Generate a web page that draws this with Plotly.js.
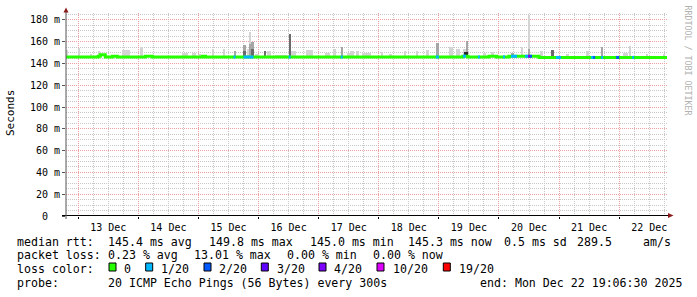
<!DOCTYPE html>
<html><head><meta charset="utf-8">
<script src="https://cdn.plot.ly/plotly-3.0.1.min.js"></script>
<style>html,body{margin:0;padding:0;background:#fff}#chart{width:697px;height:297px}</style>
</head><body><div id="chart"></div>
<script>
// ---------- data ----------
const timeRange = ['2025-12-12 19:06:30', '2025-12-22 19:06:30'];
const yTickVals = [0, 20, 40, 60, 80, 100, 120, 140, 160, 180];
const yTickText = ['0\u00a0\u00a0', '20 m', '40 m', '60 m', '80 m', '100 m', '120 m', '140 m', '160 m', '180 m'];

// median rtt (ms), step changes
const medianTime = ['2025-12-12 19:06:30','2025-12-13 08:00','2025-12-13 08:48','2025-12-13 10:48','2025-12-13 13:36','2025-12-13 15:36',
  '2025-12-14 02:48','2025-12-14 05:36','2025-12-15 01:36','2025-12-15 02:48','2025-12-19 09:36','2025-12-19 11:36',
  '2025-12-19 20:00','2025-12-19 23:00','2025-12-20 04:00','2025-12-20 16:00','2025-12-22 19:06:30'];
const medianValue = [146.0,146.6,148.0,146.0,146.6,146.0,
  146.6,146.0,146.6,146.0,146.8,146.0,
  146.7,146.1,146.7,145.6,145.6];

// loss colour legend
const lossLabels = ['0', '1/20', '2/20', '3/20', '4/20', '10/20', '19/20'];
const lossColors = ['#26ff00', '#00b8ff', '#0059ff', '#5e00ff', '#7e00ff', '#dd00ff', '#ff0000'];

// periods with packet loss (index into lossLabels)
const lossStart = ['2025-12-15 14:00','2025-12-15 18:00','2025-12-16 12:00','2025-12-17 08:48','2025-12-18 22:48','2025-12-19 09:36',
  '2025-12-19 15:36','2025-12-20 01:36','2025-12-20 04:48','2025-12-20 10:24','2025-12-20 11:36','2025-12-20 12:24',
  '2025-12-20 22:48','2025-12-21 12:48','2025-12-21 13:36','2025-12-21 16:48','2025-12-21 22:48','2025-12-22 05:12'];
const lossEnd = ['2025-12-15 14:48','2025-12-15 22:00','2025-12-16 12:48','2025-12-17 09:36','2025-12-19 00:00','2025-12-19 10:48',
  '2025-12-19 16:24','2025-12-20 02:24','2025-12-20 07:12','2025-12-20 11:36','2025-12-20 12:24','2025-12-20 13:12',
  '2025-12-21 00:48','2025-12-21 13:36','2025-12-21 14:24','2025-12-21 17:36','2025-12-22 00:00','2025-12-22 06:00'];
const lossLevel = [1,1,1,1,1,1, 1,1,1,1,4,2, 1,1,2,1,2,1];

// smoke (ping spread): start, end, top value (ms), density 0 light .. 3 dark
const smokeStart = ['2025-12-12 19:12','2025-12-13 00:00','2025-12-13 04:48','2025-12-13 08:00','2025-12-13 17:36','2025-12-14 00:48',
  '2025-12-14 02:48','2025-12-14 17:36','2025-12-14 21:36','2025-12-15 00:00','2025-12-15 05:36','2025-12-15 10:00',
  '2025-12-15 14:00','2025-12-15 17:36','2025-12-15 17:36','2025-12-15 19:12','2025-12-15 20:00','2025-12-15 20:00',
  '2025-12-15 20:48','2025-12-15 20:48','2025-12-15 22:24','2025-12-16 02:00','2025-12-16 03:12','2025-12-16 06:24',
  '2025-12-16 12:00','2025-12-16 12:48','2025-12-16 18:48','2025-12-17 02:24','2025-12-17 05:36','2025-12-17 08:48',
  '2025-12-17 11:12','2025-12-17 12:24','2025-12-17 14:48','2025-12-17 17:12','2025-12-18 00:48','2025-12-18 04:00',
  '2025-12-18 10:00','2025-12-18 14:48','2025-12-18 18:48','2025-12-18 22:48','2025-12-19 04:00','2025-12-19 06:48',
  '2025-12-19 09:36','2025-12-19 10:48','2025-12-19 10:00','2025-12-19 17:36','2025-12-19 20:48','2025-12-20 04:48',
  '2025-12-20 08:48','2025-12-20 11:36','2025-12-20 11:36','2025-12-20 16:24','2025-12-20 20:48','2025-12-21 02:48',
  '2025-12-21 10:48','2025-12-21 16:48','2025-12-22 01:36','2025-12-22 04:00','2025-12-22 10:48','2025-12-22 17:36'];
const smokeEnd = ['2025-12-12 20:00','2025-12-13 00:48','2025-12-13 05:36','2025-12-13 08:48','2025-12-13 20:48','2025-12-14 02:00',
  '2025-12-14 05:36','2025-12-14 20:00','2025-12-14 23:12','2025-12-15 01:12','2025-12-15 06:24','2025-12-15 10:48',
  '2025-12-15 14:48','2025-12-15 18:48','2025-12-15 18:48','2025-12-15 20:00','2025-12-15 20:48','2025-12-15 20:48',
  '2025-12-15 22:00','2025-12-15 22:00','2025-12-16 00:00','2025-12-16 02:48','2025-12-16 04:48','2025-12-16 11:12',
  '2025-12-16 12:48','2025-12-16 14:48','2025-12-16 21:36','2025-12-17 04:24','2025-12-17 06:48','2025-12-17 09:36',
  '2025-12-17 12:24','2025-12-17 14:00','2025-12-17 16:00','2025-12-17 20:48','2025-12-18 01:36','2025-12-18 05:12',
  '2025-12-18 10:48','2025-12-18 15:36','2025-12-18 20:00','2025-12-19 00:00','2025-12-19 05:36','2025-12-19 08:24',
  '2025-12-19 10:48','2025-12-19 11:36','2025-12-19 11:36','2025-12-19 18:48','2025-12-19 22:00','2025-12-20 06:00',
  '2025-12-20 09:36','2025-12-20 12:24','2025-12-20 12:24','2025-12-20 17:36','2025-12-20 22:00','2025-12-21 04:00',
  '2025-12-21 12:00','2025-12-21 17:36','2025-12-22 03:36','2025-12-22 04:48','2025-12-22 11:36','2025-12-22 18:24'];
const smokeTop = [152,154,149,151.5,152,155,
  147.8,149.7,149.5,149,153,153,
  151.5,156.7,151.5,153,168.5,158,
  159.5,153,149,151.5,151.5,147.8,
  166.8,151.2,152,149.5,153,155,
  150,151.5,151.5,149.5,150.5,149,
  151.5,151.5,152,158.9,155,153,
  153,160.7,151,150,150.5,150,
  155,184.3,153,151.5,152,149,
  151.5,155,150,156,148.5,149];
const smokeDensity = [0,0,0,0,0,0,
  0,0,0,0,0,0,
  1,1,2,0,0,1,
  1,2,0,2,0,0,
  2,0,0,0,0,1,
  0,0,0,0,0,0,
  0,0,0,1,0,0,
  0,1,3,0,0,1,
  0,0,1,0,2,0,
  0,1,0,0,0,0];

const rttStats = ['median rtt:', '145.4 ms avg', '149.8 ms max', '145.0 ms min', '145.3 ms now', '0.5 ms sd', '289.5', 'am/s'];
const lossStats = ['packet loss:', '0.23 % avg', '13.01 % max', '0.00 % min', '0.00 % now'];
const probeText = ['probe:', '20 ICMP Echo Pings (56 Bytes) every 300s', 'end: Mon Dec 22 19:06:30 2025'];

// ---------- geometry helpers ----------
const W = 697, H = 297, L = 66, R = 667, T = 13, B = 216;
const px = X => (X - L) / (R - L);
const py = Y => (B - Y) / (B - T);
const toMs = s => new Date(s.replace(' ', 'T')).getTime();
function medianAt(t) {
  const tm = toMs(t); let v = medianValue[0];
  for (let i = 0; i < medianTime.length; i++) if (toMs(medianTime[i]) <= tm) v = medianValue[i];
  return v;
}
const fmt = ms => { const d = new Date(ms); const p = n => String(n).padStart(2, '0');
  return d.getFullYear() + '-' + p(d.getMonth() + 1) + '-' + p(d.getDate()) + ' ' + p(d.getHours()) + ':' + p(d.getMinutes()) + ':' + p(d.getSeconds()); };

const shadeColors = ['#d4d4d4', '#a6a6a6', '#6a6a6a', '#2a2a2a'];
const traces = [];
for (let d = 0; d < 4; d++) {
  const xs = [], ws = [], ys = [], bs = [];
  smokeStart.forEach((s, i) => {
    if (smokeDensity[i] !== d) return;
    const a = toMs(s), b = toMs(smokeEnd[i]);
    const base = medianAt(s) - 1;
    xs.push(fmt((a + b) / 2)); ws.push(b - a); bs.push(base); ys.push(smokeTop[i] - base);
  });
  traces.push({type: 'bar', x: xs, y: ys, base: bs, width: ws, marker: {color: shadeColors[d], line: {width: 0}},
    hoverinfo: 'skip', showlegend: false});
}
traces.push({type: 'scatter', mode: 'lines', x: medianTime, y: medianValue, line: {shape: 'hv', color: lossColors[0], width: 3},
  hoverinfo: 'skip', showlegend: false});
lossStart.forEach((s, i) => {
  const v = medianAt(s);
  traces.push({type: 'scatter', mode: 'lines', x: [s, lossEnd[i]], y: [v, v],
    line: {color: lossColors[lossLevel[i]], width: 3}, hoverinfo: 'skip', showlegend: false});
});

// ---------- annotations / shapes ----------
const mono = 'DejaVu Sans Mono';
const ann = [];
const txt = (X, Y, s, extra) => ann.push(Object.assign({xref: 'paper', yref: 'paper', x: px(X - 1), y: py(Y), text: s, showarrow: false,
  xanchor: 'left', yanchor: 'middle', font: {family: mono, size: 11.6, color: '#000'}}, extra || {}));
const row1X = [16, 107.3, 208, 308.5, 406.5, 503, 576, 642];
rttStats.forEach((s, i) => txt(row1X[i], 241.5, s));
const row2X = [16, 107.3, 193, 286.4, 372];
lossStats.forEach((s, i) => txt(row2X[i], 255.5, s));
txt(16, 269, 'loss color:');
const sqX = [109, 145.7, 204, 261.3, 319, 377, 443.3];
const lblX = [123.3, 160, 218.3, 275.7, 333.3, 391.7, 457.7];
const shapes = [];
lossLabels.forEach((s, i) => {
  txt(lblX[i], 269, s);
  shapes.push({type: 'rect', xref: 'paper', yref: 'paper', x0: px(sqX[i]), x1: px(sqX[i] + 7), y0: py(271), y1: py(263),
    fillcolor: lossColors[i], line: {color: '#000', width: 1}});
});
const row4X = [16, 107.3, 478.7];
probeText.forEach((s, i) => txt(row4X[i], 283, s));
ann.push({xref: 'paper', yref: 'paper', x: px(11), y: py(113), text: 'Seconds', textangle: -90, showarrow: false,
  xanchor: 'center', yanchor: 'middle', font: {family: mono, size: 11, color: '#000'}});
ann.push({xref: 'paper', yref: 'paper', x: px(687.5), y: py(60), text: 'RRDTOOL / TOBI OETIKER', textangle: 90, showarrow: false,
  xanchor: 'center', yanchor: 'middle', font: {family: mono, size: 8.3, color: '#b0b0b0'}});

// axes lines + arrows
shapes.push({type: 'line', xref: 'paper', yref: 'paper', x0: px(62), x1: px(670), y0: py(215.5), y1: py(215.5), line: {color: '#000', width: 1}});
shapes.push({type: 'line', xref: 'paper', yref: 'paper', x0: px(66), x1: px(66), y0: py(219), y1: py(10), line: {color: '#555', width: 1}});
shapes.push({type: 'path', xref: 'paper', yref: 'paper', fillcolor: '#8b1a1a', line: {width: 0},
  path: `M ${px(63.5)} ${py(12.5)} L ${px(68.5)} ${py(12.5)} L ${px(66)} ${py(7.5)} Z`});
shapes.push({type: 'path', xref: 'paper', yref: 'paper', fillcolor: '#8b1a1a', line: {width: 0},
  path: `M ${px(668)} ${py(213)} L ${px(668)} ${py(218)} L ${px(673.5)} ${py(215.5)} Z`});

const layout = {
  width: W, height: H, margin: {l: L, r: W - R, t: T, b: H - B}, paper_bgcolor: '#fff', plot_bgcolor: '#fff',
  barmode: 'overlay', bargap: 0, showlegend: false,
  xaxis: {type: 'date', range: timeRange, tick0: '2025-12-13', dtick: 86400000, ticklabelmode: 'period', tickformat: '%d %b',
    showgrid: true, gridcolor: '#eea0a0', griddash: '1px,1px', gridwidth: 1, zeroline: false, showline: false,
    ticks: 'outside', ticklen: 2, tickcolor: '#000', tickfont: {family: mono, size: 10, color: '#000'},
    minor: {tick0: '2025-12-13', dtick: 21600000, showgrid: true, gridcolor: '#c8c8c8', griddash: '1px,1px', ticks: ''},
    fixedrange: true},
  yaxis: {range: [0, 186.4], tickmode: 'array', tickvals: yTickVals, ticktext: yTickText,
    showgrid: true, gridcolor: '#eea0a0', griddash: '1px,1px', zeroline: false, showline: false,
    ticks: 'outside', ticklen: 3, tickcolor: '#555', tickfont: {family: mono, size: 10, color: '#000'},
    minor: {dtick: 5, showgrid: true, gridcolor: '#c8c8c8', griddash: '1px,1px'}, fixedrange: true},
  annotations: ann, shapes: shapes
};
Plotly.newPlot('chart', traces, layout, {staticPlot: true, displayModeBar: false});
</script></body></html>
